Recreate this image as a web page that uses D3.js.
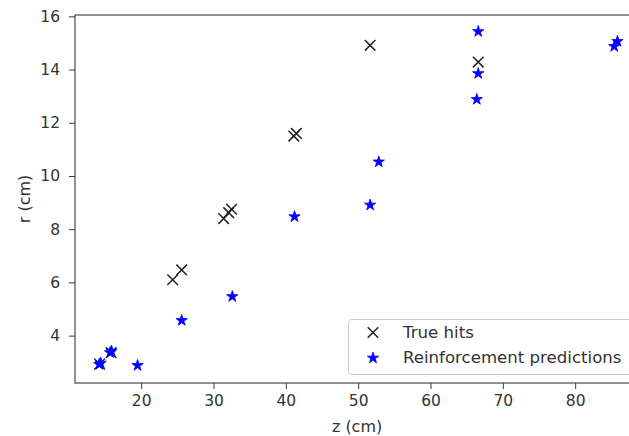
<!DOCTYPE html>
<html>
<head>
<meta charset="utf-8">
<script src="https://cdn.jsdelivr.net/npm/d3@7"></script>
<style>
  html, body { margin: 0; padding: 0; background: #fff; }
  svg { display: block; }
  text { font-family: "DejaVu Sans", sans-serif; fill: #333; }
</style>
</head>
<body>
<svg id="chart" width="629" height="436"></svg>
<script>
// ---- data ----
const trueZ = [14.25, 15.85, 24.35, 25.6, 31.4, 32.1, 32.5, 41.1, 41.45, 51.65, 66.6];
const trueR = [2.93, 3.36, 6.1, 6.47, 8.4, 8.62, 8.75, 11.5, 11.6, 14.91, 14.28];
const predZ = [14.2, 14.4, 15.7, 15.9, 19.5, 25.6, 32.6, 41.2, 51.65, 52.85, 66.6, 66.6, 66.4, 85.4, 85.85];
const predR = [2.92, 2.97, 3.36, 3.42, 2.88, 4.57, 5.47, 8.47, 8.91, 10.53, 15.43, 13.85, 12.88, 14.87, 15.06];
const xTicks = [20, 30, 40, 50, 60, 70, 80];
const yTicks = [4, 6, 8, 10, 12, 14, 16];
const seriesNames = ["True hits", "Reinforcement predictions"];

// ---- layout ----
const svg = d3.select("#chart");
const mLeft = 75, mTop = 15, mBottom = 383;
const xDomain = [10.85, 89.4];
const pxPerUnit = 7.233;
const mRight = mLeft + (xDomain[1] - xDomain[0]) * pxPerUnit;

const x = d3.scaleLinear().domain(xDomain).range([mLeft, mRight]);
const y = d3.scaleLinear().domain([2.22, 16.05]).range([mBottom, mTop]);

const axisColor = "#3a3a3a";
const tickFont = "15.5px";
const labelFont = "16px";
const legendFont = "16.6px";

// axes
const gx = svg.append("g").attr("transform", `translate(0,${mBottom})`)
  .call(d3.axisBottom(x).tickValues(xTicks).tickSize(6).tickPadding(6).tickFormat(d3.format("d")));
const gy = svg.append("g").attr("transform", `translate(${mLeft},0)`)
  .call(d3.axisLeft(y).tickValues(yTicks).tickSize(6).tickPadding(9).tickFormat(d3.format("d")));
[gx, gy].forEach(g => {
  g.select(".domain").remove();
  g.selectAll("line").attr("stroke", axisColor).attr("stroke-width", 1);
  g.selectAll("text").style("font-family", "DejaVu Sans, sans-serif").style("font-size", tickFont).attr("fill", "#333");
});

// frame (spines)
svg.append("rect")
  .attr("x", mLeft).attr("y", mTop)
  .attr("width", mRight - mLeft).attr("height", mBottom - mTop)
  .attr("fill", "none").attr("stroke", axisColor).attr("stroke-width", 1.1);

// axis labels
svg.append("text")
  .attr("x", (mLeft + mRight) / 2 - 2).attr("y", 431.5)
  .attr("text-anchor", "middle").style("font-size", labelFont)
  .text("z (cm)");
svg.append("text")
  .attr("transform", `translate(30,${(mTop + mBottom) / 2}) rotate(-90)`)
  .attr("text-anchor", "middle").style("font-size", labelFont)
  .text("r (cm)");

// markers
const xSym = d3.symbol().type(d3.symbolTimes).size(75);
const starSym = d3.symbol().type(d3.symbolStar).size(40);

const trueData = trueZ.map((z, i) => ({ z, r: trueR[i] }));
const predData = predZ.map((z, i) => ({ z, r: predR[i] }));

svg.append("g").selectAll("path").data(trueData).join("path")
  .attr("d", xSym)
  .attr("transform", d => `translate(${x(d.z)},${y(d.r)})`)
  .attr("fill", "none").attr("stroke", "#222").attr("stroke-width", 1.5);

svg.append("g").selectAll("path").data(predData).join("path")
  .attr("d", starSym)
  .attr("transform", d => `translate(${x(d.z)},${y(d.r)})`)
  .attr("fill", "#0000ff").attr("stroke", "#0000ff").attr("stroke-width", 0.8);

// legend
const lg = svg.append("g");
lg.append("rect")
  .attr("x", 348.5).attr("y", 319.5).attr("width", 300).attr("height", 55).attr("rx", 3)
  .attr("fill", "rgba(255,255,255,0.85)").attr("stroke", "#ccc").attr("stroke-width", 1);
lg.append("path").attr("d", xSym)
  .attr("transform", "translate(373,332.5)")
  .attr("fill", "none").attr("stroke", "#222").attr("stroke-width", 1.5);
lg.append("path").attr("d", starSym)
  .attr("transform", "translate(373,358)")
  .attr("fill", "#0000ff").attr("stroke", "#0000ff").attr("stroke-width", 0.8);
lg.append("text").attr("x", 403).attr("y", 337.5).style("font-size", legendFont).text(seriesNames[0]);
lg.append("text").attr("x", 403).attr("y", 363.3).style("font-size", legendFont).text(seriesNames[1]);
</script>
</body>
</html>
